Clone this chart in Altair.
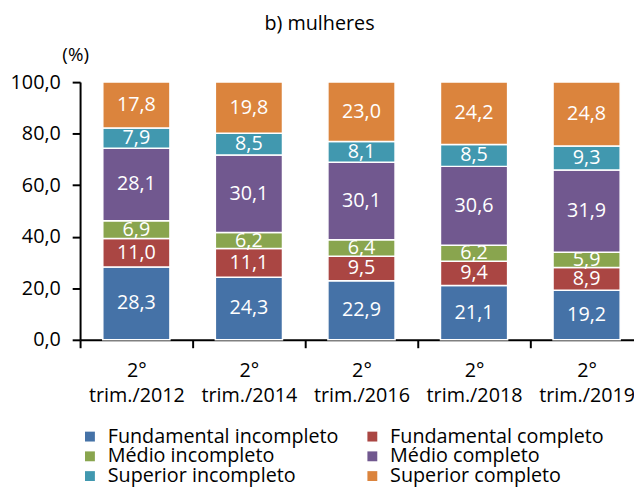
import altair as alt
import pandas as pd

periodos = ["2°|trim./2012", "2°|trim./2014", "2°|trim./2016", "2°|trim./2018", "2°|trim./2019"]
niveis = ["Fundamental incompleto", "Fundamental completo", "Médio incompleto",
          "Médio completo", "Superior incompleto", "Superior completo"]
fund_inc = [28.3, 24.3, 22.9, 21.1, 19.2]
fund_comp = [11.0, 11.1, 9.5, 9.4, 8.9]
med_inc = [6.9, 6.2, 6.4, 6.2, 5.9]
med_comp = [28.1, 30.1, 30.1, 30.6, 31.9]
sup_inc = [7.9, 8.5, 8.1, 8.5, 9.3]
sup_comp = [17.8, 19.8, 23.0, 24.2, 24.8]
cores = ["#4572A7", "#AA4643", "#89A54E", "#71588F", "#4198AF", "#DB843D"]

series = [fund_inc, fund_comp, med_inc, med_comp, sup_inc, sup_comp]
rows = []
for k, (nivel, vals) in enumerate(zip(niveis, series)):
    for p, v in zip(periodos, vals):
        rows.append({"periodo": p, "nivel": nivel, "ordem": k, "valor": v})
df = pd.DataFrame(rows)

FONT = "Open Sans"
FS = 20

base = alt.Chart(df).transform_stack(
    stack="valor", groupby=["periodo"], as_=["y0", "y1"],
    sort=[alt.SortField("ordem", order="ascending")]
).transform_calculate(
    ymid="(datum.y0 + datum.y1) / 2",
    rotulo="replace(format(datum.valor, '.1f'), '.', ',')"
)

xenc = alt.X("periodo:N", sort=periodos, title=None,
             scale=alt.Scale(paddingInner=0, paddingOuter=0, range=[0, 570]),
             axis=alt.Axis(labelExpr="isValid(datum.value) ? split(datum.value, '|') : ''",
                           labelAngle=0,
                           tickBand="extent", tickSize=8, tickColor="black", tickWidth=2,
                           domainColor="black", domainWidth=2,
                           labelFontSize=FS, labelFont=FONT, labelColor="black",
                           labelPadding=13, labelLineHeight=25))

bars = base.mark_bar(width=68, stroke="white", strokeWidth=1.5).encode(
    x=xenc,
    y=alt.Y("y0:Q", scale=alt.Scale(domain=[0, 100]),
            axis=alt.Axis(values=[0, 20, 40, 60, 80, 100],
                          labelExpr="replace(format(datum.value, '.1f'), '.', ',')",
                          grid=False, tickSize=8, tickColor="black", tickWidth=2,
                          domainColor="black", domainWidth=2,
                          labelFontSize=FS, labelFont=FONT, labelColor="black",
                          labelPadding=12,
                          title="(%)", titleAngle=0, titleX=-5, titleY=-28,
                          titleAlign="center", titleBaseline="middle",
                          titleFont=FONT, titleFontSize=19, titleFontWeight="normal",
                          titleColor="black")),
    y2="y1:Q",
    color=alt.Color("nivel:N", scale=alt.Scale(domain=niveis, range=cores),
                    legend=alt.Legend(title=None, orient="none", legendX=0, legendY=349,
                                      direction="horizontal",
                                      columns=2, columnPadding=24, rowPadding=0,
                                      symbolType="square", symbolSize=100,
                                      symbolStrokeWidth=0, labelOffset=8,
                                      labelFontSize=FS, labelLimit=400,
                                      labelFont=FONT, labelColor="black")),
    order=alt.Order("ordem:Q"),
)

labels = base.mark_text(color="white", fontSize=FS, font=FONT, baseline="middle").encode(
    x=alt.X("periodo:N", sort=periodos),
    y=alt.Y("ymid:Q"),
    text="rotulo:N",
)

chart = alt.layer(bars, labels).properties(
    width=561, height=261,
    padding={"left": 73, "top": 72, "right": 0, "bottom": 146},
    autosize=alt.AutoSizeParams(type="none"),
    title=alt.TitleParams("b) mulheres", fontSize=FS, font=FONT, fontWeight="normal",
                          color="black", anchor="middle", dx=-38, dy=-8),
).configure_view(stroke=None)

chart.save("out.html", embed_options={"renderer": "svg", "actions": False})
